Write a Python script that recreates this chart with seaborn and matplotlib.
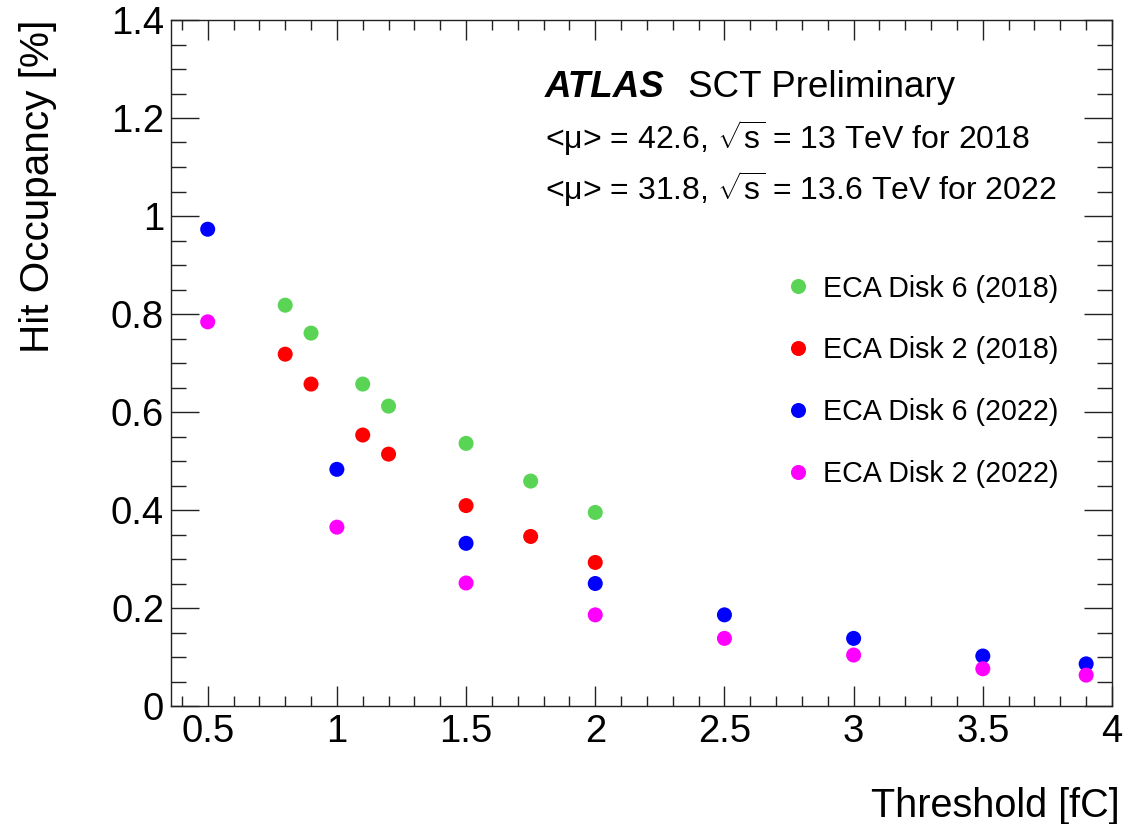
import numpy as np
import pandas as pd
import seaborn as sns
import matplotlib
matplotlib.use("Agg")
import matplotlib.pyplot as plt
from matplotlib.ticker import MultipleLocator

# ---- data ----
thr_2018 = [0.8, 0.9, 1.1, 1.2, 1.5, 1.75, 2.0]
disk6_2018 = [0.818, 0.761, 0.657, 0.612, 0.536, 0.459, 0.395]
disk2_2018 = [0.718, 0.657, 0.553, 0.514, 0.409, 0.346, 0.293]
thr_2022 = [0.5, 1.0, 1.5, 2.0, 2.5, 3.0, 3.5, 3.9]
disk6_2022 = [0.973, 0.483, 0.332, 0.250, 0.186, 0.138, 0.102, 0.086]
disk2_2022 = [0.784, 0.365, 0.251, 0.186, 0.138, 0.104, 0.076, 0.063]
series_names = ["ECA Disk 6 (2018)", "ECA Disk 2 (2018)",
                "ECA Disk 6 (2022)", "ECA Disk 2 (2022)"]
series_colors = ["#59d454", "#ff0000", "#0000ff", "#ff00ff"]

frames = []
for name, xs, ys in zip(series_names,
                        [thr_2018, thr_2018, thr_2022, thr_2022],
                        [disk6_2018, disk2_2018, disk6_2022, disk2_2022]):
    frames.append(pd.DataFrame({"Threshold": xs, "Occupancy": ys, "Series": name}))
df = pd.concat(frames, ignore_index=True)

sns.set_style("ticks")
plt.rcParams["font.family"] = ["Liberation Sans", "DejaVu Sans"]
plt.rcParams["mathtext.fontset"] = "custom"
plt.rcParams["mathtext.rm"] = "Liberation Sans"
plt.rcParams["mathtext.it"] = "Liberation Sans:italic"
plt.rcParams["text.color"] = "black"
plt.rcParams["axes.labelcolor"] = "black"
plt.rcParams["xtick.color"] = "black"
plt.rcParams["ytick.color"] = "black"

fig = plt.figure(figsize=(11.25, 8.24), dpi=100)
ax = fig.add_axes([171 / 1125, 1 - 706 / 824, 941 / 1125, 686 / 824])

sns.scatterplot(data=df, x="Threshold", y="Occupancy", hue="Series",
                hue_order=series_names,
                palette=dict(zip(series_names, series_colors)),
                s=117, linewidth=0, marker="o", ax=ax, legend=True, zorder=3)

ax.set_xlim(0.358, 4.0)
ax.set_ylim(0, 1.4)
ax.xaxis.set_major_locator(MultipleLocator(0.5))
ax.xaxis.set_minor_locator(MultipleLocator(0.1))
ax.yaxis.set_major_locator(MultipleLocator(0.2))
ax.yaxis.set_minor_locator(MultipleLocator(0.05))
ax.xaxis.set_major_formatter(matplotlib.ticker.FuncFormatter(lambda v, p: f"{v:g}"))
ax.yaxis.set_major_formatter(matplotlib.ticker.FuncFormatter(lambda v, p: f"{v:g}"))

for sp in ax.spines.values():
    sp.set_visible(True)
    sp.set_linewidth(1.0)
    sp.set_color("#222222")

ax.tick_params(axis="both", which="both", direction="in", top=True, right=True,
               color="#222222", labelcolor="black", width=1.0, labelsize=27.5)
ax.tick_params(axis="x", which="major", length=14.4, pad=6)
ax.tick_params(axis="x", which="minor", length=7)
ax.tick_params(axis="y", which="major", length=20, pad=5)
ax.tick_params(axis="y", which="minor", length=10.8)

ax.set_xlabel("Threshold [fC]", fontsize=28.5, ha="right", va="baseline", color="black")
ax.xaxis.set_label_coords(1.0085, -0.1618)
ax.set_ylabel("Hit Occupancy [%]", fontsize=29.2, ha="right", va="baseline", color="black")
ax.yaxis.set_label_coords(-0.1297, 1.0)

txt_size = 23
head_size = 26.5
ax.text(0.3974, 0.8878, "ATLAS", transform=ax.transAxes, fontsize=head_size,
        fontweight="bold", fontstyle="italic", va="baseline", ha="left")
ax.text((688 - 171) / 941, 0.8878, "SCT Preliminary", transform=ax.transAxes,
        fontsize=head_size, va="baseline", ha="left")
ax.text(0.3974, 0.8115, r"<μ> = 42.6, $\sqrt{\mathrm{s}}$ = 13 TeV for 2018",
        transform=ax.transAxes, fontsize=txt_size, va="baseline", ha="left")
ax.text(0.3974, 0.7376, r"<μ> = 31.8, $\sqrt{\mathrm{s}}$ = 13.6 TeV for 2022",
        transform=ax.transAxes, fontsize=txt_size, va="baseline", ha="left")

leg = ax.legend(loc="upper left", bbox_to_anchor=(0.6575, 0.629), frameon=False,
                fontsize=20.6, borderpad=0, borderaxespad=0, handlelength=0.6,
                handletextpad=0.55, labelspacing=1.18, markerscale=1.0)
for h in leg.legend_handles:
    try:
        h.set_sizes([117])
    except Exception:
        pass
for t in leg.get_texts():
    t.set_color("black")

fig.savefig("out.png", dpi=100)
